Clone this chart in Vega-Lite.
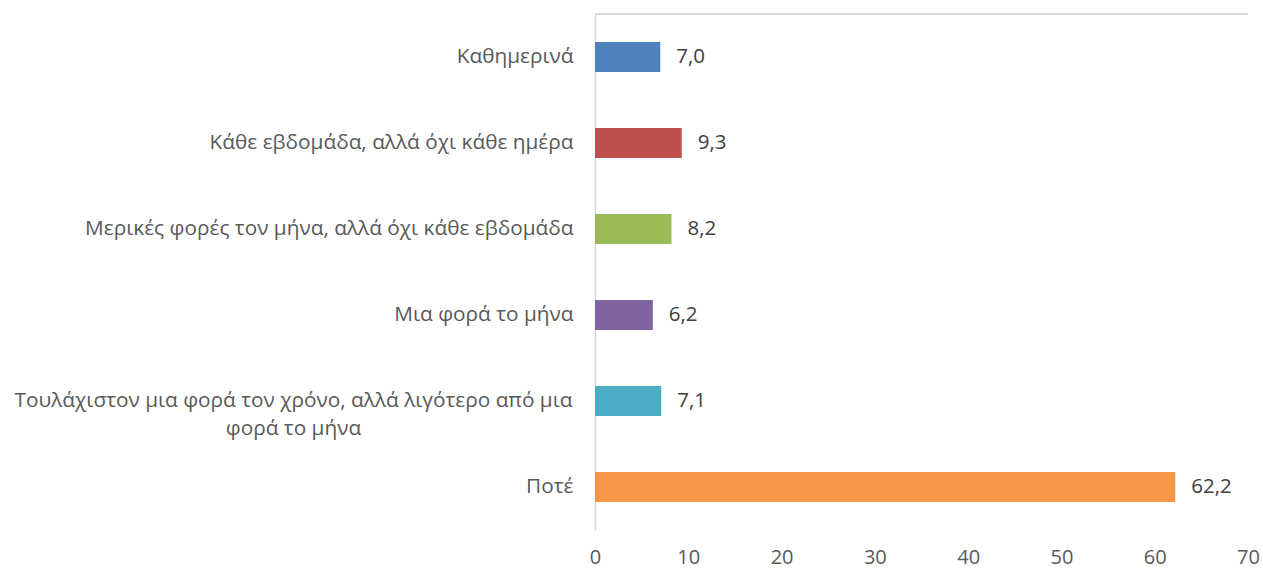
{
  "$schema": "https://vega.github.io/schema/vega-lite/v6.json",
  "width": 653,
  "height": 516,
  "autosize": {"type": "none"},
  "padding": {"left": 595, "top": 14, "right": 15, "bottom": 39},
  "background": "white",
  "config": {
    "view": {"stroke": null},
    "locale": {"number": {"decimal": ",", "thousands": ".", "grouping": [3], "currency": ["", "€"]}},
    "font": "Open Sans"
  },
  "data": {
    "values": [
      {"category": "Καθημερινά", "value": 7.0},
      {"category": "Κάθε εβδομάδα, αλλά όχι κάθε ημέρα", "value": 9.3},
      {"category": "Μερικές φορές τον μήνα, αλλά όχι κάθε εβδομάδα", "value": 8.2},
      {"category": "Μια φορά το μήνα", "value": 6.2},
      {"category": "Τουλάχιστον μια φορά τον χρόνο, αλλά λιγότερο από μια φορά το μήνα", "value": 7.1},
      {"category": "Ποτέ", "value": 62.2}
    ]
  },
  "encoding": {
    "y": {
      "field": "category",
      "type": "nominal",
      "sort": null,
      "scale": {"paddingInner": 0.65, "paddingOuter": 0.325},
      "axis": {
        "title": null,
        "ticks": false,
        "domainColor": "#d9d9d9",
        "domainWidth": 1.5,
        "labelFont": "Open Sans",
        "labelFontSize": 20.8,
        "labelColor": "#595959",
        "labelLimit": 700,
        "labelLineHeight": 28,
        "labelAlign": {"condition": {"test": "datum.value == 'Τουλάχιστον μια φορά τον χρόνο, αλλά λιγότερο από μια φορά το μήνα'", "value": "center"}, "value": "right"},
        "labelPadding": {"condition": {"test": "datum.value == 'Τουλάχιστον μια φορά τον χρόνο, αλλά λιγότερο από μια φορά το μήνα'", "value": 302}, "value": 22},
        "labelExpr": "datum.value == 'Τουλάχιστον μια φορά τον χρόνο, αλλά λιγότερο από μια φορά το μήνα' ? ['Τουλάχιστον μια φορά τον χρόνο, αλλά λιγότερο από μια', 'φορά το μήνα'] : datum.label"
      }
    },
    "x": {
      "field": "value",
      "type": "quantitative",
      "scale": {"domain": [0, 70], "nice": false},
      "axis": {
        "title": null,
        "values": [0, 10, 20, 30, 40, 50, 60, 70],
        "grid": false,
        "ticks": false,
        "domain": false,
        "labelFont": "Open Sans",
        "labelFontSize": 20,
        "labelColor": "#595959",
        "labelPadding": 17,
        "labelFlush": false
      }
    }
  },
  "layer": [
    {
      "mark": {"type": "bar"},
      "encoding": {
        "color": {
          "field": "category",
          "type": "nominal",
          "sort": null,
          "legend": null,
          "scale": {"range": ["#4F81BD", "#C0504D", "#9BBB59", "#8064A2", "#4BACC6", "#F79646"]}
        }
      }
    },
    {
      "mark": {"type": "text", "align": "left", "dx": 16, "font": "Open Sans", "fontSize": 20.5, "color": "#404040"},
      "encoding": {
        "text": {"field": "value", "type": "quantitative", "format": ".1f"}
      }
    },
    {
      "mark": {"type": "rule", "color": "#d9d9d9", "strokeWidth": 1.5},
      "encoding": {
        "y": {"value": 0},
        "x": {"value": 0},
        "x2": {"value": 653}
      }
    }
  ]
}
